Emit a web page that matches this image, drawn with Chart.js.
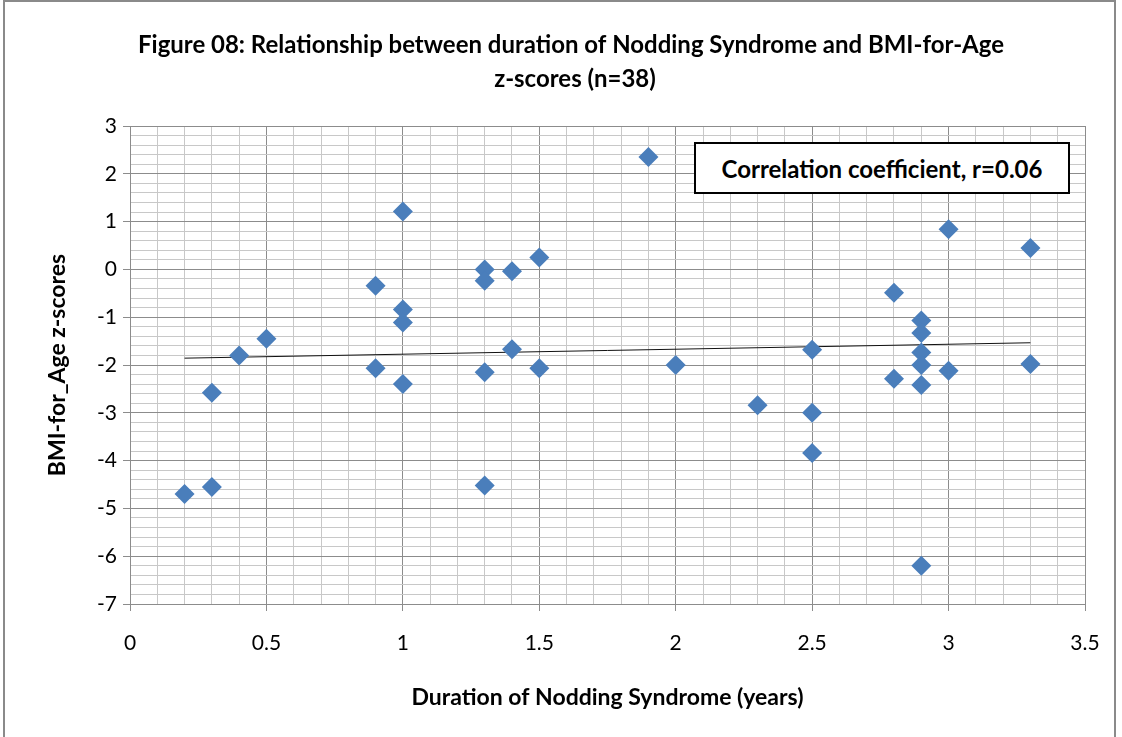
<!DOCTYPE html>
<html>
<head>
<meta charset="utf-8">
<script src="https://cdn.jsdelivr.net/npm/chart.js@4.4.1/dist/chart.umd.min.js"></script>
<style>
	body { margin: 0; background: #fff; }
	#wrap { position: relative; width: 1122px; height: 737px; overflow: hidden; }
	#frame { position: absolute; left: 3px; top: 0px; width: 1113px; height: 800px; border: 2px solid #8a8a8a; box-sizing: border-box; pointer-events: none; }
	#corr {
		position: absolute; left: 694px; top: 142px; width: 376px; height: 52px;
		border: 2px solid #000; background: #fff; box-sizing: border-box;
		font: bold 24px Lato, "Open Sans", sans-serif; color: #000;
		display: flex; align-items: center; justify-content: center;
	}
</style>
</head>
<body>
<div id="wrap">
	<canvas id="Scatter" width="1122" height="737"></canvas>
	<div id="corr">Correlation coefficient, r=0.06</div>
	<div id="frame"></div>
</div>
<script>
// Duration of Nodding Syndrome (years) and BMI-for-Age z-scores
const durations = [0.2, 0.3, 0.3, 0.4, 0.5, 0.9, 0.9, 1.0, 1.0, 1.0, 1.0, 1.3, 1.3, 1.3, 1.3, 1.4, 1.4, 1.5, 1.5,
	1.9, 2.0, 2.3, 2.5, 2.5, 2.5, 2.8, 2.8, 2.9, 2.9, 2.9, 2.9, 2.9, 2.9, 3.0, 3.0, 3.3, 3.3];
const zScores = [-4.7, -4.55, -2.58, -1.8, -1.45, -0.34, -2.07, 1.21, -0.84, -1.11, -2.4, 0.0, -0.24, -2.15, -4.52, -0.04, -1.67, 0.25, -2.07,
	2.35, -2.0, -2.84, -1.68, -3.0, -3.84, -0.49, -2.29, -1.07, -1.33, -1.74, -2.0, -2.42, -6.2, 0.84, -2.12, 0.45, -1.98];

const titleLines = ["Figure 08: Relationship between duration of Nodding Syndrome and BMI-for-Age", "z-scores (n=38)"];
const xTitle = "Duration of Nodding Syndrome (years)";
const yTitle = "BMI-for_Age z-scores";

const points = durations.map((x, i) => ({ x: x, y: zScores[i] }));

// least squares trend line over the data range
const n = points.length;
const mx = durations.reduce((a, b) => a + b, 0) / n;
const my = zScores.reduce((a, b) => a + b, 0) / n;
let sxy = 0, sxx = 0;
points.forEach((p) => {
	sxy += (p.x - mx) * (p.y - my);
	sxx += (p.x - mx) * (p.x - mx);
});
const slope = sxy / sxx;
const xMin = Math.min(...durations);
const xMax = Math.max(...durations);
const trend = [
	{ x: xMin, y: my + slope * (xMin - mx) },
	{ x: xMax, y: my + slope * (xMax - mx) },
];

const isStep = (v, step) => Math.abs(v / step - Math.round(v / step)) < 1e-6;
const FONT = "Lato, 'Open Sans', sans-serif";

// title is a narrow bold face in the original, so squeeze it to the same width
const titlePlugin = {
	id: "figTitle",
	afterDraw(chart) {
		const ctx = chart.ctx;
		ctx.save();
		ctx.fillStyle = "#000";
		ctx.textAlign = "center";
		ctx.textBaseline = "middle";
		ctx.font = "bold 25px " + FONT;
		const squeeze = 866 / ctx.measureText(titleLines[0]).width;
		ctx.translate(571, 0);
		ctx.scale(squeeze, 1);
		ctx.fillText(titleLines[0], 0, 45);
		ctx.fillText(titleLines[1], 4 / squeeze, 79);
		ctx.restore();
	},
};

const ctx = document.getElementById("Scatter").getContext("2d");
new Chart(ctx, {
	type: "scatter",
	data: {
		datasets: [
			{
				label: "BMI-for-Age z-score",
				data: points,
				pointStyle: "rectRot",
				pointRadius: 10,
				pointHoverRadius: 10,
				backgroundColor: "#4a7ebb",
				borderColor: "#4a7ebb",
				borderWidth: 0,
			},
			{
				type: "line",
				label: "Linear trend",
				data: trend,
				borderColor: "#111",
				borderWidth: 1,
				pointRadius: 0,
				fill: false,
			},
		],
	},
	options: {
		responsive: false,
		animation: false,
		layout: { padding: { top: 126, right: 37, left: 0, bottom: 0 } },
		plugins: {
			legend: { display: false },
			tooltip: { enabled: false },
		},
		scales: {
			x: {
				type: "linear",
				min: 0,
				max: 3.5,
				afterFit: (scale) => { scale.height = 133; },
				ticks: {
					stepSize: 0.1,
					autoSkip: false,
					maxRotation: 0,
					padding: 20,
					color: "#000",
					font: { family: FONT, size: 21 },
					callback: (v) => (isStep(v, 0.5) ? String(Math.round(v * 10) / 10) : ""),
				},
				grid: {
					tickLength: 7,
					lineWidth: 1,
					color: (c) => (isStep(c.tick.value, 0.5) ? "#8c8c8c" : "#c8c8c8"),
					tickColor: (c) => (isStep(c.tick.value, 0.5) ? "#8c8c8c" : "rgba(0,0,0,0)"),
				},
				border: { color: "#8c8c8c" },
				title: {
					display: true,
					text: xTitle,
					color: "#000",
					font: { family: FONT, size: 23, weight: "bold" },
					padding: { top: 0, bottom: 26 },
				},
			},
			y: {
				type: "linear",
				min: -7,
				max: 3,
				afterFit: (scale) => { scale.width = 130; },
				ticks: {
					stepSize: 0.2,
					autoSkip: false,
					padding: 6,
					color: "#000",
					font: { family: FONT, size: 21 },
					callback: (v) => (isStep(v, 1) ? String(Math.round(v)) : ""),
				},
				grid: {
					tickLength: 7,
					lineWidth: 1,
					color: (c) => (isStep(c.tick.value, 1) ? "#8c8c8c" : "#c8c8c8"),
					tickColor: (c) => (isStep(c.tick.value, 1) ? "#8c8c8c" : "rgba(0,0,0,0)"),
				},
				border: { color: "#8c8c8c" },
				title: {
					display: true,
					text: yTitle,
					color: "#000",
					font: { family: FONT, size: 23, weight: "bold" },
					padding: { top: 44, bottom: 0 },
				},
			},
		},
	},
	plugins: [titlePlugin],
});
</script>
</body>
</html>
